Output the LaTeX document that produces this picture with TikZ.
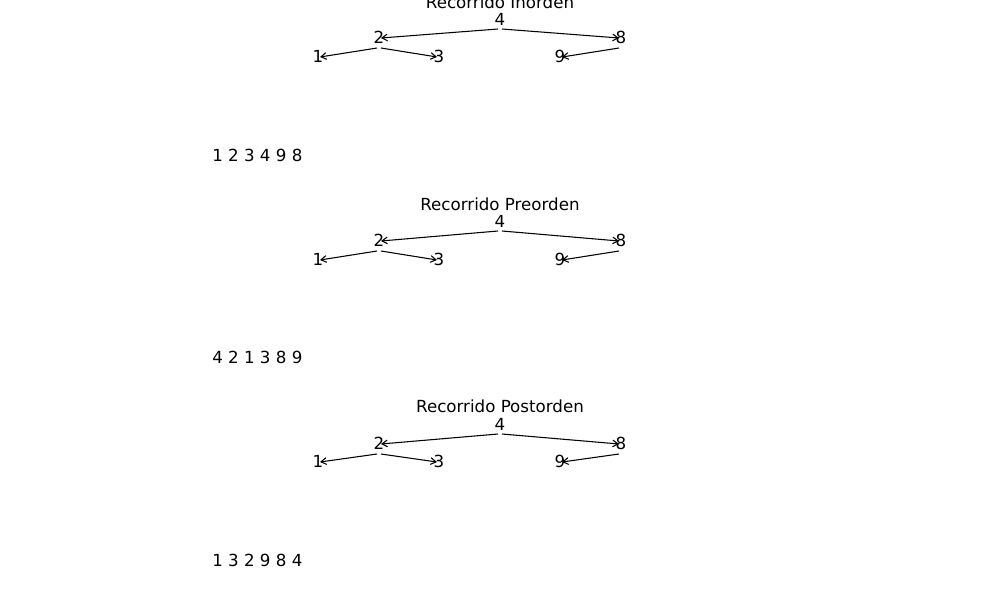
\documentclass[tikz,border=0pt]{standalone}
\usepackage{fontspec}
\setmainfont{DejaVu Sans}
\usepackage{tikz}
\usetikzlibrary{arrows.meta, calc}

\tikzset{
  lbl/.style={inner sep=0pt, font=\fontsize{12.5}{15}\selectfont},
  edge/.style={line width=0.8pt, -{Straight Barb[length=4pt,width=5pt]}}
}

\begin{document}
\begin{tikzpicture}[x=0.75pt,y=0.75pt,yscale=-1,xscale=1]
\useasboundingbox (0,0) rectangle (1000,614);
\clip (0,0) rectangle (1000,614);

%Tree: Inorden
% Text Node
\node (tA) [lbl] at (500,2) {Recorrido Inorden};
\node (a4) [lbl] at (500,19) {4};
\node (a2) [lbl] at (379,37) {2};
\node (a8) [lbl] at (621,37) {8};
\node (a1) [lbl] at (318,56) {1};
\node (a3) [lbl] at (439,56) {3};
\node (a9) [lbl] at (560,56) {9};
\node (sA) [lbl, anchor=west] at (212,155) {1 2 3 4 9 8};
%Straight Lines
\draw [edge] ($(a4)+(-2,10)$) -- ($(a2)+(2,1)$);
\draw [edge] ($(a4)+(2,10)$) -- ($(a8)+(-2,1)$);
\draw [edge] ($(a2)+(-2,11)$) -- ($(a1)+(2,1)$);
\draw [edge] ($(a2)+(2,11)$) -- ($(a3)+(-2,1)$);
\draw [edge] ($(a8)+(-2,11)$) -- ($(a9)+(2,1)$);

%Tree: Preorden
% Text Node
\node (tB) [lbl] at (500,204) {Recorrido Preorden};
\node (b4) [lbl] at (500,221) {4};
\node (b2) [lbl] at (379,240) {2};
\node (b8) [lbl] at (621,240) {8};
\node (b1) [lbl] at (318,259) {1};
\node (b3) [lbl] at (439,259) {3};
\node (b9) [lbl] at (560,259) {9};
\node (sB) [lbl, anchor=west] at (212,357) {4 2 1 3 8 9};
%Straight Lines
\draw [edge] ($(b4)+(-2,10)$) -- ($(b2)+(2,1)$);
\draw [edge] ($(b4)+(2,10)$) -- ($(b8)+(-2,1)$);
\draw [edge] ($(b2)+(-2,11)$) -- ($(b1)+(2,1)$);
\draw [edge] ($(b2)+(2,11)$) -- ($(b3)+(-2,1)$);
\draw [edge] ($(b8)+(-2,11)$) -- ($(b9)+(2,1)$);

%Tree: Postorden
% Text Node
\node (tC) [lbl] at (500,406) {Recorrido Postorden};
\node (c4) [lbl] at (500,424) {4};
\node (c2) [lbl] at (379,443) {2};
\node (c8) [lbl] at (621,443) {8};
\node (c1) [lbl] at (318,461) {1};
\node (c3) [lbl] at (439,461) {3};
\node (c9) [lbl] at (560,461) {9};
\node (sC) [lbl, anchor=west] at (212,560) {1 3 2 9 8 4};
%Straight Lines
\draw [edge] ($(c4)+(-2,10)$) -- ($(c2)+(2,1)$);
\draw [edge] ($(c4)+(2,10)$) -- ($(c8)+(-2,1)$);
\draw [edge] ($(c2)+(-2,11)$) -- ($(c1)+(2,1)$);
\draw [edge] ($(c2)+(2,11)$) -- ($(c3)+(-2,1)$);
\draw [edge] ($(c8)+(-2,11)$) -- ($(c9)+(2,1)$);

\end{tikzpicture}
\end{document}
